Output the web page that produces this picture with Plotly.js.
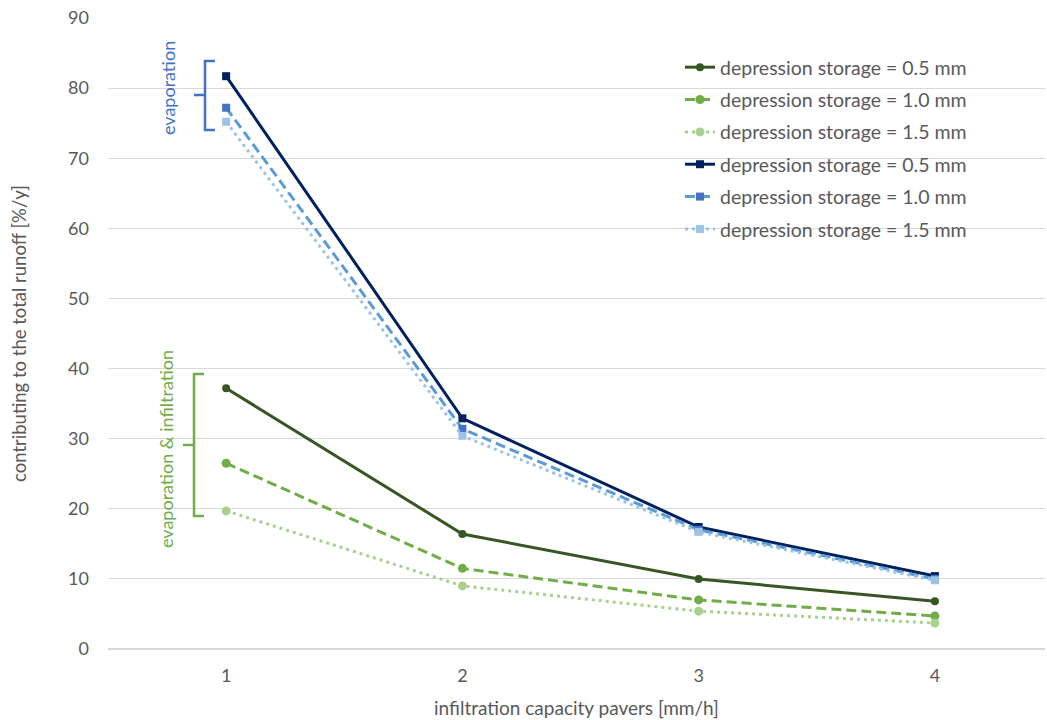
<!DOCTYPE html>
<html>
<head>
<meta charset="utf-8">
<script src="https://cdn.plot.ly/plotly-3.0.1.min.js"></script>
<style>html,body{margin:0;padding:0;background:#fff;}#chart{width:1047px;height:720px;}</style>
</head>
<body>
<div id="chart"></div>
<script>
// ---- data ----
var capacities = [1, 2, 3, 4];
var seriesNames = [
  "depression storage = 0.5 mm",
  "depression storage = 1.0 mm",
  "depression storage = 1.5 mm",
  "depression storage = 0.5 mm",
  "depression storage = 1.0 mm",
  "depression storage = 1.5 mm"
];
var evapInfil05 = [37.2, 16.4, 10.0, 6.8];
var evapInfil10 = [26.5, 11.5, 7.0, 4.7];
var evapInfil15 = [19.7, 9.0, 5.4, 3.7];
var evap05 = [81.7, 32.9, 17.4, 10.4];
var evap10 = [77.2, 31.4, 17.0, 10.0];
var evap15 = [75.2, 30.4, 16.7, 9.8];
var yTicks = [0, 10, 20, 30, 40, 50, 60, 70, 80, 90];

// ---- styling ----
var FONT = "Lato, 'Liberation Sans', sans-serif";
var GRAY = "#595959";
var L = 108, R = 1045, T = 18, B = 649;
function px(p) { return (p - L) / (R - L); }
function py(p) { return (B - p) / (B - T); }

function tr(y, name, color, mcolor, dash, symbol, msize) {
  return {
    x: capacities, y: y, name: name, type: "scatter", mode: "lines+markers",
    legendgroup: name + color,
    line: {color: color, width: 3, dash: dash},
    marker: {color: mcolor, size: msize, symbol: symbol}
  };
}

var data = [
  tr(evapInfil05, seriesNames[0], "#375623", "#375623", "solid", "circle", 8),
  tr(evapInfil10, seriesNames[1], "#70AD47", "#70AD47", "10px,5px", "circle", 9),
  tr(evapInfil15, seriesNames[2], "#A9D18E", "#A9D18E", "3px,4px", "circle", 9),
  tr(evap05, seriesNames[3], "#002060", "#002060", "solid", "square", 8),
  tr(evap10, seriesNames[4], "#5B9BD5", "#4472C4", "10px,5px", "square", 8),
  tr(evap15, seriesNames[5], "#9DC3E6", "#9DC3E6", "3px,4px", "square", 8)
];

function bracket(xv, ytop, ybot, xend, ymid, xmid, color) {
  var p = "M " + px(xend) + "," + py(ytop) + " L " + px(xv) + "," + py(ytop) +
          " L " + px(xv) + "," + py(ybot) + " L " + px(xend) + "," + py(ybot) +
          " M " + px(xv) + "," + py(ymid) + " L " + px(xmid) + "," + py(ymid);
  return {type: "path", xref: "paper", yref: "paper", path: p,
          line: {color: color, width: 2.5}};
}

var layout = {
  width: 1047, height: 720,
  margin: {l: L, r: 1047 - R, t: T, b: 720 - B},
  paper_bgcolor: "#fff", plot_bgcolor: "#fff",
  font: {family: FONT, color: GRAY, size: 18},
  showlegend: true,
  legend: {
    x: px(680), y: py(48), xanchor: "left", yanchor: "top",
    font: {family: FONT, size: 19.5, color: GRAY},
    tracegroupgap: 4, bgcolor: "rgba(255,255,255,0)"
  },
  xaxis: {
    range: [0.5, 4.466], tickvals: capacities, ticktext: capacities.map(String),
    showgrid: false, zeroline: false, showline: false, ticks: "",
    tickfont: {size: 18, color: GRAY, family: FONT}, ticklabelstandoff: 14,
    title: {text: "infiltration capacity pavers [mm/h]", font: {size: 19, color: GRAY, family: FONT}, standoff: 16}
  },
  yaxis: {
    range: [0, 90], tickvals: yTicks, showgrid: true, gridcolor: "#D9D9D9", gridwidth: 1,
    zeroline: true, zerolinecolor: "#D9D9D9", zerolinewidth: 1.5, showline: false, ticks: "",
    tickfont: {size: 18, color: GRAY, family: FONT}, ticklabelstandoff: 18,
    title: {text: "contributing to the total runoff [%/y]", font: {size: 18.5, color: GRAY, family: FONT}, standoff: 36}
  },
  annotations: [
    {xref: "paper", yref: "paper", x: px(168), y: py(88), xanchor: "center", yanchor: "middle",
     text: "evaporation", textangle: -90,
     showarrow: false, font: {family: FONT, size: 18, color: "#4472C4"}},
    {xref: "paper", yref: "paper", x: px(166), y: py(449), xanchor: "center", yanchor: "middle",
     text: "evaporation &amp; infiltration", textangle: -90,
     showarrow: false, font: {family: FONT, size: 18, color: "#70AD47"}}
  ],
  shapes: [
    bracket(205, 61, 130, 215, 95, 194, "#4472C4"),
    bracket(194, 374, 516, 204, 445, 183, "#70AD47")
  ]
};

Plotly.newPlot("chart", data, layout, {displayModeBar: false, staticPlot: true});
</script>
</body>
</html>
